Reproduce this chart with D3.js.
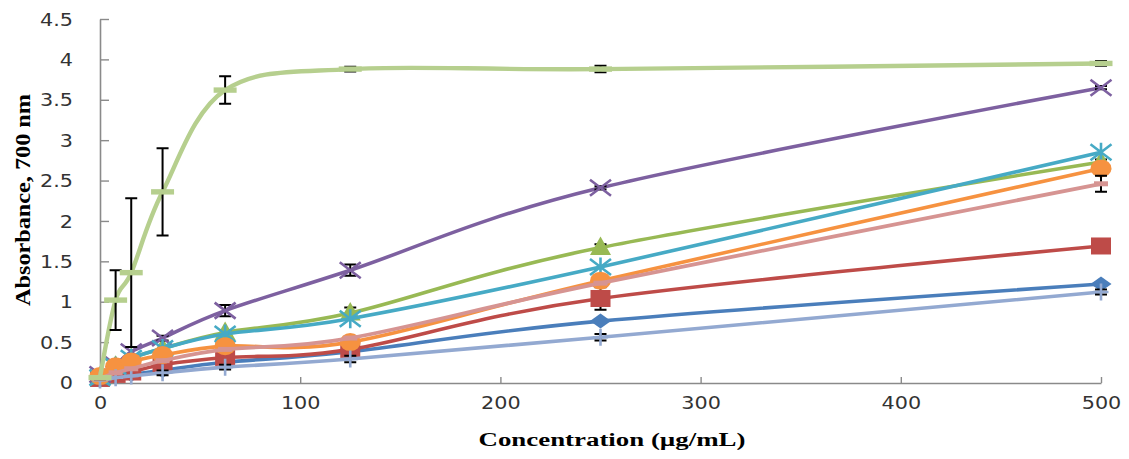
<!DOCTYPE html>
<html><head><meta charset="utf-8">
<script src="https://cdnjs.cloudflare.com/ajax/libs/d3/7.8.5/d3.min.js"></script>
<style>html,body{margin:0;padding:0;background:#fff;}svg{display:block;}</style>
</head><body>
<svg id="chart" width="1129" height="459"></svg>
<script>
// ---- data ----
const concentrations = [0, 7.8, 15.6, 31.25, 62.5, 125, 250, 500];
const xTicks = [0, 100, 200, 300, 400, 500];
const yTicks = [0, 0.5, 1, 1.5, 2, 2.5, 3, 3.5, 4, 4.5];
const xTitle = "Concentration (µg/mL)";
const yTitle = "Absorbance, 700 nm";

const diamondVals  = [0.05, 0.07, 0.10, 0.15, 0.25, 0.38, 0.76, 1.22];
const squareVals   = [0.05, 0.10, 0.13, 0.22, 0.31, 0.41, 1.04, 1.69];
const triangleVals = [0.07, 0.20, 0.30, 0.42, 0.62, 0.86, 1.67, 2.73];
const crossVals    = [0.10, 0.22, 0.38, 0.55, 0.89, 1.39, 2.41, 3.65];
const starVals     = [0.06, 0.20, 0.30, 0.42, 0.60, 0.79, 1.43, 2.85];
const circleVals   = [0.08, 0.20, 0.26, 0.34, 0.45, 0.50, 1.26, 2.65];
const plusVals     = [0.03, 0.06, 0.08, 0.12, 0.19, 0.29, 0.56, 1.12];
const pinkVals     = [0.05, 0.12, 0.17, 0.27, 0.41, 0.55, 1.23, 2.46];
const limeVals     = [0.06, 1.02, 1.36, 2.36, 3.62, 3.88, 3.88, 3.95];

const diamondErr  = [0, 0, 0, 0, 0, 0, 0.02, 0.02];
const squareErr   = [0, 0, 0, 0, 0.03, 0.05, 0.14, 0.03];
const triangleErr = [0, 0, 0, 0, 0.03, 0.07, 0.04, 0.03];
const crossErr    = [0, 0, 0, 0.03, 0.07, 0.07, 0.02, 0.02];
const starErr     = [0, 0, 0, 0, 0, 0, 0, 0];
const circleErr   = [0, 0, 0, 0, 0, 0, 0, 0];
const plusErr     = [0, 0, 0, 0.03, 0.03, 0.04, 0.04, 0.03];
const pinkErr     = [0, 0, 0, 0, 0, 0, 0, 0.10];
const limeErr     = [0.02, 0.37, 0.92, 0.54, 0.17, 0.03, 0.04, 0.03];

const series = [
  {vals: diamondVals,  err: diamondErr,  color: "#4A7EBB", marker: "diamond", w: 3.6},
  {vals: squareVals,   err: squareErr,   color: "#BE4B48", marker: "square", w: 3.6},
  {vals: triangleVals, err: triangleErr, color: "#98B954", marker: "triangle", w: 3.6},
  {vals: crossVals,    err: crossErr,    color: "#7D60A0", marker: "x", w: 3.6},
  {vals: starVals,     err: starErr,     color: "#46AAC5", marker: "star", w: 3.6},
  {vals: circleVals,   err: circleErr,   color: "#F69240", marker: "circle", w: 3.6},
  {vals: plusVals,     err: plusErr,     color: "#93A9D1", marker: "plus", w: 3.6},
  {vals: pinkVals,     err: pinkErr,     color: "#D69492", marker: "dashS", w: 3.8},
  {vals: limeVals,     err: limeErr,     color: "#B6CF8E", marker: "dash", w: 4.4}
];

// ---- chart ----
const svg = d3.select("#chart");
const x = d3.scaleLinear().domain([0, 500]).range([100, 1101]);
const y = d3.scaleLinear().domain([0, 4.5]).range([382.5, 19]);
const SX = 1.22; // horizontal glyph stretch

// axes
const yAxis = d3.axisLeft(y).tickValues(yTicks).tickSizeInner(-9).tickSizeOuter(0).tickPadding(27)
  .tickFormat(d => String(d));
const gy = svg.append("g").attr("transform", "translate(100,0)").call(yAxis);
const xAxis = d3.axisBottom(x).tickValues(xTicks).tickSizeInner(-6).tickSizeOuter(0).tickPadding(14)
  .tickFormat(d => String(d));
const gx = svg.append("g").attr("transform", "translate(0,383)").call(xAxis);

[gx, gy].forEach(g => {
  g.select(".domain").attr("stroke", "#8a8a8a").attr("stroke-width", 1.6);
  g.selectAll(".tick line").attr("stroke", "#8a8a8a").attr("stroke-width", 1.4);
  g.selectAll(".tick text").attr("font-family", "DejaVu Sans").attr("font-size", 17).attr("fill", "#333");
});
gy.selectAll(".tick text").attr("dy", "0.36em");
gx.selectAll(".tick text").attr("dy", "0.71em");
svg.selectAll(".tick text").each(function() {
  const t = d3.select(this);
  const w = this.getComputedTextLength();
  t.attr("textLength", w * SX).attr("lengthAdjust", "spacingAndGlyphs");
});

// titles
const xt = svg.append("text").attr("x", 612).attr("y", 446).attr("text-anchor", "middle")
  .attr("font-family", "Liberation Serif").attr("font-weight", "bold").attr("font-size", 18)
  .attr("fill", "#000").text(xTitle);
xt.attr("textLength", 267).attr("lengthAdjust", "spacingAndGlyphs");
const yt = svg.append("g").attr("transform", `translate(30,200) scale(${SX},1) rotate(-90)`)
  .append("text").attr("x", 0).attr("y", 0).attr("text-anchor", "middle")
  .attr("font-family", "Liberation Serif").attr("font-weight", "bold").attr("font-size", 17)
  .attr("fill", "#000").text(yTitle);
yt.attr("textLength", 212).attr("lengthAdjust", "spacingAndGlyphs");

// markers
function drawMarker(g, type, cx, cy, color) {
  const m = g.append("g").attr("transform", `translate(${cx},${cy})`);
  switch (type) {
    case "diamond":
      m.append("path").attr("d", "M-10.5,0L0,-7.5L10.5,0L0,7.5Z").attr("fill", color); break;
    case "square":
      m.append("rect").attr("x", -10).attr("y", -8.5).attr("width", 20).attr("height", 17).attr("fill", color); break;
    case "triangle":
      m.append("path").attr("d", "M0,-11L10.5,7.5L-10.5,7.5Z").attr("fill", color); break;
    case "circle":
      m.append("ellipse").attr("rx", 10.5).attr("ry", 9).attr("fill", color); break;
    case "x":
      m.append("path").attr("d", "M-10.5,-8L10.5,8M-10.5,8L10.5,-8").attr("stroke", color).attr("stroke-width", 2.6).attr("fill", "none"); break;
    case "star":
      m.append("path").attr("d", "M-10.5,-8L10.5,8M-10.5,8L10.5,-8M0,-9.5L0,9.5").attr("stroke", color).attr("stroke-width", 2.6).attr("fill", "none"); break;
    case "plus":
      m.append("path").attr("d", "M-7.5,0L7.5,0M0,-8.5L0,8.5").attr("stroke", color).attr("stroke-width", 2.6).attr("fill", "none"); break;
    case "dash":
      m.append("rect").attr("x", -11.5).attr("y", -2.7).attr("width", 23).attr("height", 5.4).attr("fill", color); break;
    case "dashS":
      m.append("rect").attr("x", -7).attr("y", -2.5).attr("width", 14).attr("height", 5).attr("fill", color); break;
  }
}

const line = d3.line().x(d => x(d[0])).y(d => y(d[1])).curve(d3.curveCardinal.tension(0));
const plot = svg.append("g");
series.forEach(s => {
  const pts = concentrations.map((c, i) => [c, s.vals[i]]);
  const g = plot.append("g");
  g.append("path").attr("d", line(pts)).attr("fill", "none").attr("stroke", s.color)
    .attr("stroke-width", s.w).attr("stroke-linejoin", "round").attr("stroke-linecap", "round");
  // error bars
  concentrations.forEach((c, i) => {
    const e = s.err[i];
    if (e <= 0) return;
    const cx = x(c), y1 = y(s.vals[i] + e), y2 = y(s.vals[i] - e);
    g.append("path").attr("d", `M${cx},${y1}L${cx},${y2}M${cx-6},${y1}L${cx+6},${y1}M${cx-6},${y2}L${cx+6},${y2}`)
      .attr("stroke", "#000").attr("stroke-width", 2).attr("fill", "none");
  });
  concentrations.forEach((c, i) => drawMarker(g, s.marker, x(c), y(s.vals[i]), s.color));
});
</script>
</body></html>
